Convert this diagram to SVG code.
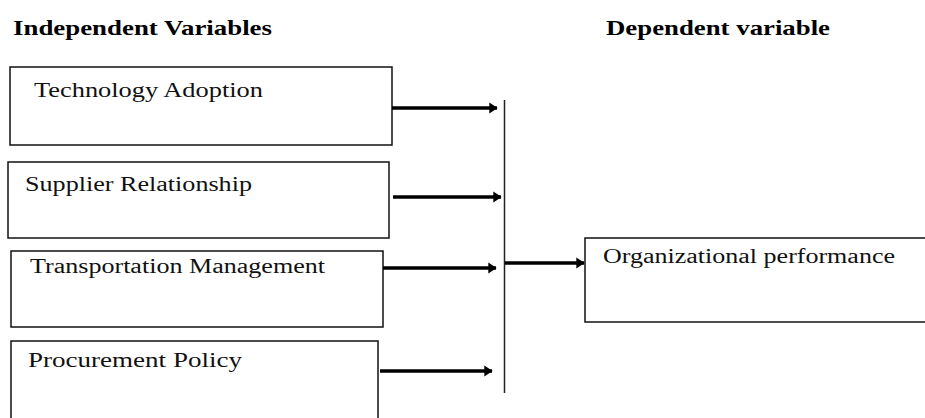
<svg xmlns="http://www.w3.org/2000/svg" width="925" height="418" viewBox="0 0 925 418">
<style>
.hdr{font-family:"Liberation Serif","Times New Roman",serif;font-weight:bold;font-size:21px;fill:#000}
.lbl{font-family:"Liberation Serif","Times New Roman",serif;font-size:20px;fill:#111}
.box{fill:#fff;stroke:#111;stroke-width:1.5}
.arr{fill:none;stroke:#000;stroke-width:3.5}
.bus{fill:none;stroke:#222;stroke-width:1.5}
</style>
<defs>
<marker id="ah" markerWidth="4" markerHeight="4" refX="2.2" refY="2" orient="auto" markerUnits="strokeWidth">
<path d="M0,0.4 L2.4,2 L0,3.6 Z" fill="#000"/>
</marker>
</defs>
<rect width="925" height="418" fill="#fff"/>
<g id="headers">
<text class="hdr" x="13" y="35" textLength="259" lengthAdjust="spacingAndGlyphs">Independent Variables</text>
<text class="hdr" x="606" y="35" textLength="224" lengthAdjust="spacingAndGlyphs">Dependent variable</text>
</g>
<g id="technology-adoption">
<rect class="box" x="10" y="67" width="382" height="78"/>
<text class="lbl" x="34" y="97" textLength="229" lengthAdjust="spacingAndGlyphs">Technology Adoption</text>
</g>
<g id="supplier-relationship">
<rect class="box" x="8" y="162" width="381" height="76"/>
<text class="lbl" x="25" y="191" textLength="227" lengthAdjust="spacingAndGlyphs">Supplier Relationship</text>
</g>
<g id="transportation-management">
<rect class="box" x="11" y="251" width="372" height="76"/>
<text class="lbl" x="30" y="273" textLength="295" lengthAdjust="spacingAndGlyphs">Transportation Management</text>
</g>
<g id="procurement-policy">
<rect class="box" x="11" y="341" width="367" height="82"/>
<text class="lbl" x="28" y="367" textLength="214" lengthAdjust="spacingAndGlyphs">Procurement Policy</text>
</g>
<g id="organizational-performance">
<rect class="box" x="585" y="238" width="345" height="84"/>
<text class="lbl" x="603" y="263" textLength="292" lengthAdjust="spacingAndGlyphs">Organizational performance</text>
</g>
<g id="connectors">
<line class="bus" x1="504.5" y1="100" x2="504.5" y2="393"/>
<line class="arr" x1="392" y1="108" x2="497" y2="108" marker-end="url(#ah)"/>
<line class="arr" x1="393" y1="197" x2="501" y2="197" marker-end="url(#ah)"/>
<line class="arr" x1="383" y1="268" x2="496" y2="268" marker-end="url(#ah)"/>
<line class="arr" x1="380" y1="371" x2="492" y2="371" marker-end="url(#ah)"/>
<line class="arr" x1="505" y1="263" x2="584" y2="263" marker-end="url(#ah)"/>
</g>
</svg>
